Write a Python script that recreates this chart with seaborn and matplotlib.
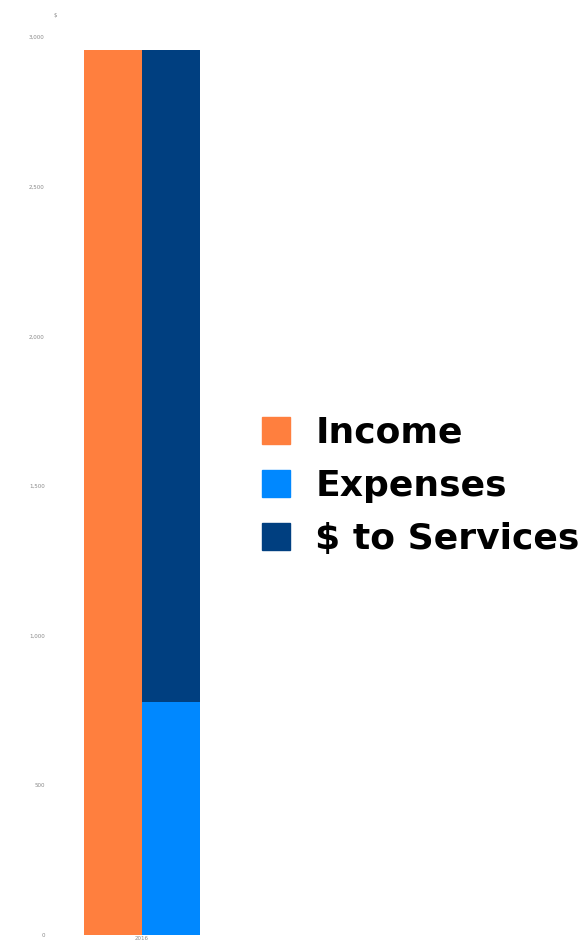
import matplotlib
matplotlib.use("Agg")
import matplotlib.pyplot as plt
import matplotlib.patches as mpatches
import seaborn as sns
import pandas as pd
import numpy as np

years = ["2016"]
income = [2957]
expenses = [778]
services = [2179]
series_names = ["Income", "Expenses", "$ to Services"]
colors = {"Income": "#FF7F3E", "Expenses": "#0088FF", "$ to Services": "#003F80"}
yticks = [0, 500, 1000, 1500, 2000, 2500, 3000]

sns.set_theme(style="white")
plt.rcParams['font.family'] = ['DejaVu Sans']

fig = plt.figure(figsize=(5.82, 9.48), dpi=100)
ax = fig.add_axes([78/582, 1-935/948, 128/582, (935-37)/948])

# layer 1: income and total (expenses + services)
df1 = pd.DataFrame({
    "year": years * 2,
    "series": ["Income"] * len(years) + ["$ to Services"] * len(years),
    "value": income + [e + s for e, s in zip(expenses, services)],
})
sns.barplot(data=df1, x="year", y="value", hue="series",
            hue_order=["Income", "$ to Services"],
            palette=[colors["Income"], colors["$ to Services"]],
            width=0.9, gap=0, legend=False, ax=ax, saturation=1, linewidth=0)

# layer 2: expenses drawn at bottom of the stacked bar
df2 = pd.DataFrame({
    "year": years * 2,
    "series": ["Income"] * len(years) + ["Expenses"] * len(years),
    "value": income + expenses,
})
sns.barplot(data=df2, x="year", y="value", hue="series",
            hue_order=["Income", "Expenses"],
            palette=[colors["Income"], colors["Expenses"]],
            width=0.9, gap=0, legend=False, ax=ax, saturation=1, linewidth=0)

ax.set_ylim(0, 3000)
ax.set_xlim(-0.5, 0.5)
ax.set_yticks(yticks)
ax.set_yticklabels([f"{v:,}" for v in yticks], fontsize=4, color="#888888")
ax.tick_params(axis="x", labelsize=4, labelcolor="#888888", length=0, pad=1)
ax.tick_params(axis="y", length=0, pad=24)
ax.set_xlabel("")
ax.set_ylabel("")
sns.despine(ax=ax, left=True, bottom=True)
fig.text(55/582, 1-15/948, "$", fontsize=4, color="#888888", ha="center", va="center")

handles = [mpatches.Patch(facecolor=colors[n], edgecolor=colors[n]) for n in series_names]
leg = fig.legend(handles, series_names, loc="center left",
           bbox_to_anchor=(262/582, 1-486/948), frameon=False,
           prop={"weight": "bold", "size": 26}, handlelength=0.78, handleheight=0.78,
           handletextpad=0.7, labelspacing=0.53, borderaxespad=0, borderpad=0)
for t in leg.get_texts():
    t.set_color("black")

fig.savefig("out.png", dpi=100)
